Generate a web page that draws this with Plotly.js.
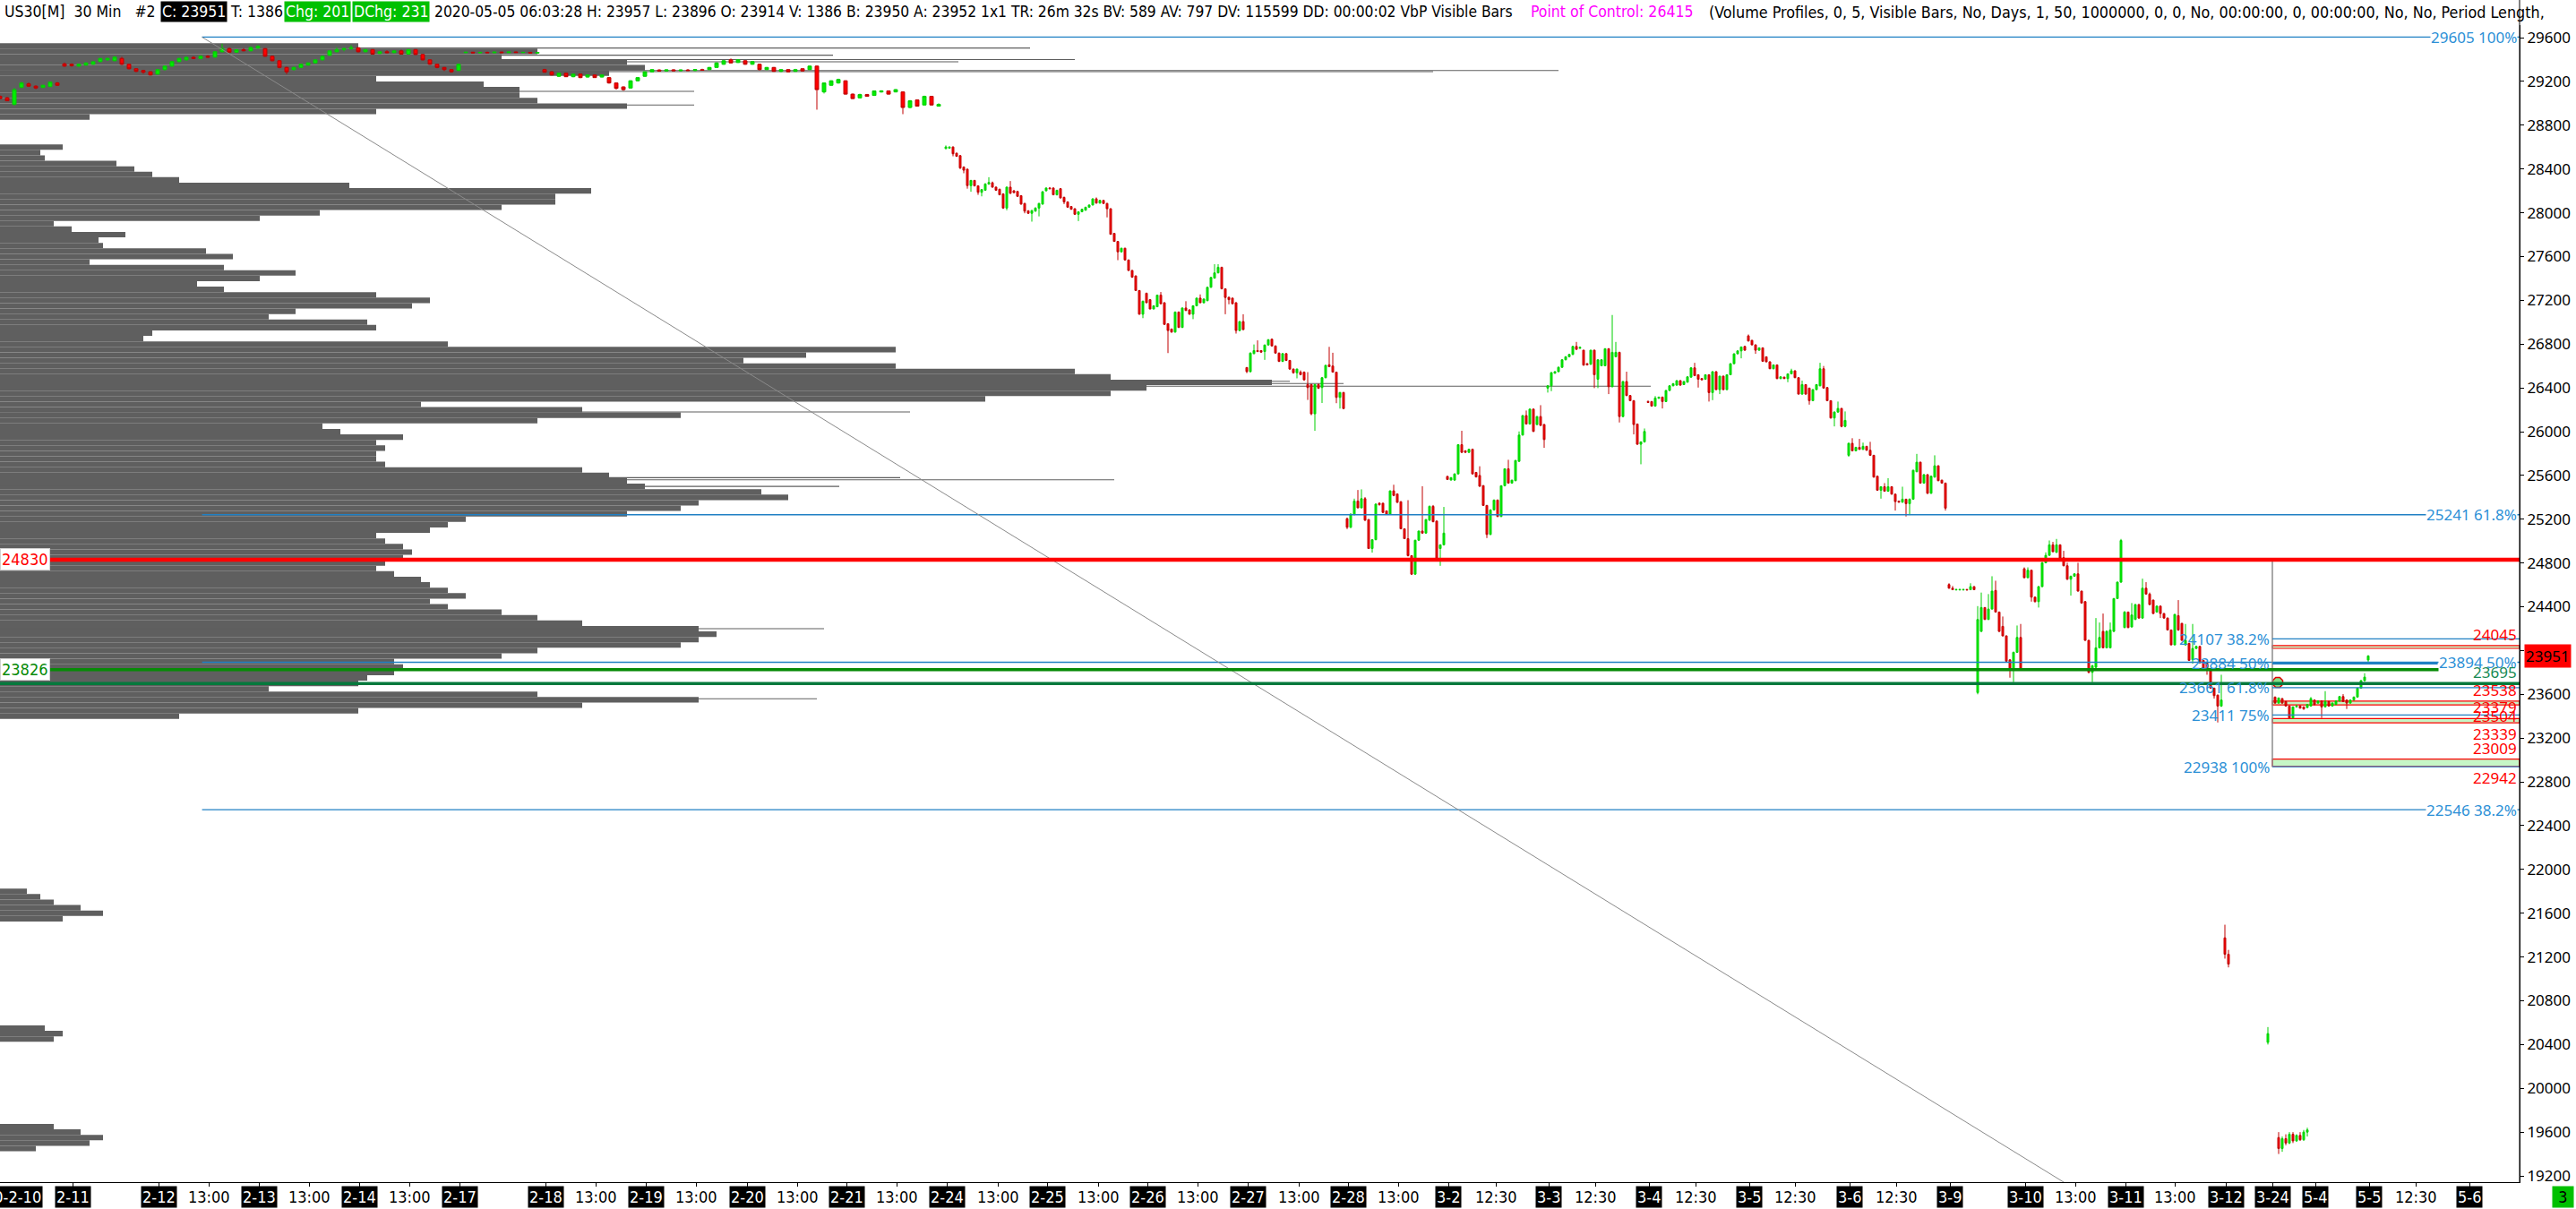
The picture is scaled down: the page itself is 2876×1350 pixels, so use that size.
<!DOCTYPE html>
<html>
<head>
<meta charset="utf-8">
<script src="https://cdn.plot.ly/plotly-3.0.1.min.js"></script>
<style>html,body{margin:0;padding:0;background:#fff;overflow:hidden}#chart{width:2876px;height:1350px}</style>
</head>
<body>
<div id="chart"></div>
<script>
// ---------------- DATA ----------------
const yTicks = [19200,19600,20000,20400,20800,21200,21600,22000,22400,22800,23200,23600,24000,24400,24800,25200,25600,26000,26400,26800,27200,27600,28000,28400,28800,29200,29600];
const yTickText = ['19200','19600','20000','20400','20800','21200','21600','22000','22400','22800','23200','23600','','24400','24800','25200','25600','26000','26400','26800','27200','27600','28000','28400','28800','29200','29600'];

const dayLabels = ['2-11','2-12','2-13','2-14','2-17','2-18','2-19','2-20','2-21','2-24','2-25','2-26','2-27','2-28','3-2','3-3','3-4','3-5','3-6','3-9','3-10','3-11','3-12','3-24','5-4','5-5','5-6'];
const dayBars = [20.25,44.25,72.25,100.25,128.25,152.25,180.25,208.5,236.25,264.25,292.25,320.25,348.25,376.25,404.25,432.25,460.25,488.25,516.25,544.25,565.25,593.25,621.25,634.25,646.25,661.25,689.25];
const timeLabels = ['13:00','13:00','13:00','13:00','13:00','13:00','13:00','13:00','13:00','13:00','13:00','13:00','12:30','12:30','12:30','12:30','12:30','13:00','13:00','12:30'];
const timeBars = [58.25,86.25,114.25,166.25,194.25,222.5,250.25,278.5,306.5,334.25,362.5,390.25,417.5,445.25,473.25,501,529.25,579.25,607,674.25];

// Feb 10 - Feb 21 candles, one per two 30-min slots (slot, then O,H,L,C)
const seg1Bars = [0,2,4,6,8,10,12,14,16,18,20,22,24,26,28,30,32,34,36,38,40,42,44,46,48,50,52,54,56,58,60,62,64,66,68,70,72,74,76,78,80,82,84,86,88,90,92,94,96,98,100,102,104,106,108,110,112,114,116,118,120,122,124,126,128,130,132,134,136,138,140,142,144,146,148,150,152,154,156,158,160,162,164,166,168,170,172,174,176,178,180,182,184,186,188,190,192,194,196,198,200,202,204,206,208,210,212,214,216,218,220,222,224,226,228,230,232,234,236,238,240,242,244,246,248,250,252,254,256,258,260,262];
const seg1 = [
[29064,29072,29040,29043],[29050,29060,29020,29023],[28990,29140,28980,29125],[29145,29195,29140,29186],[29178,29190,29150,29157],[29157,29165,29130,29140],
[29145,29170,29140,29165],[29153,29200,29148,29194],[29186,29194,29160,29165],[29361,29372,29335,29340],[29357,29365,29335,29345],[29340,29362,29335,29357],
[29349,29375,29345,29369],[29357,29385,29352,29380],[29381,29415,29375,29410],[29397,29418,29390,29410],[29389,29430,29385,29422],[29410,29425,29350,29357],
[29357,29362,29310,29316],[29316,29320,29285,29292],[29300,29306,29270,29284],[29288,29292,29255,29259],[29267,29312,29262,29308],[29308,29345,29300,29340],
[29340,29385,29335,29381],[29381,29415,29375,29410],[29397,29428,29390,29420],[29420,29430,29405,29410],[29410,29438,29405,29430],[29430,29440,29415,29422],
[29422,29475,29418,29471],[29471,29545,29465,29500],[29500,29510,29460,29467],[29467,29495,29462,29490],[29490,29505,29475,29480],[29480,29520,29475,29510],
[29505,29532,29498,29520],[29500,29505,29425,29430],[29430,29435,29385,29389],[29389,29393,29320,29328],[29328,29335,29267,29288],[29308,29335,29300,29328],
[29328,29362,29322,29357],[29349,29375,29345,29369],[29369,29400,29365,29397],[29397,29435,29392,29430],[29438,29485,29434,29479],[29471,29511,29466,29491],
[29491,29510,29475,29500],[29500,29532,29490,29508],[29508,29512,29465,29471],[29471,29495,29466,29491],[29491,29495,29445,29450],[29455,29475,29450,29471],
[29471,29485,29458,29463],[29463,29485,29458,29479],[29479,29490,29445,29450],[29450,29495,29446,29491],[29491,29495,29442,29446],[29446,29450,29392,29397],
[29397,29400,29352,29357],[29357,29362,29320,29328],[29328,29332,29295,29308],[29308,29312,29280,29288],[29300,29362,29296,29357],
[29463,29470,29458,29467],[29467,29471,29459,29461],[29461,29468,29457,29466],[29466,29472,29460,29462],[29462,29470,29458,29468],[29468,29473,29461,29463],
[29463,29471,29459,29469],[29469,29474,29462,29464],[29464,29470,29458,29466],[29466,29470,29457,29459],[29459,29468,29455,29465],
[29308,29315,29280,29284],[29288,29295,29255,29259],[29247,29280,29240,29275],[29275,29280,29240,29243],[29243,29272,29238,29267],[29267,29272,29230,29235],
[29240,29262,29235,29259],[29259,29265,29232,29235],[29240,29264,29236,29259],[29235,29240,29180,29186],[29186,29190,29125,29137],[29150,29155,29115,29125],
[29140,29210,29135,29206],[29206,29240,29200,29235],[29247,29292,29242,29288],[29288,29312,29284,29308],
[29304,29312,29292,29296],[29296,29310,29290,29306],[29306,29312,29294,29298],[29298,29310,29292,29304],[29304,29314,29296,29300],[29300,29312,29294,29308],[29308,29316,29298,29302],
[29308,29332,29304,29328],[29328,29375,29325,29369],[29357,29395,29352,29389],[29397,29410,29365,29369],[29373,29405,29369,29397],[29389,29395,29352,29357],
[29357,29385,29352,29381],[29357,29362,29300,29308],[29308,29332,29304,29328],[29328,29332,29288,29292],[29292,29312,29285,29308],[29308,29312,29284,29288],
[29292,29315,29288,29308],[29316,29320,29290,29296],[29308,29345,29304,29340],[29340,29345,28942,29125],[29104,29190,29090,29186],[29165,29210,29160,29206],
[29186,29225,29180,29218],[29206,29210,29080,29084],[29084,29090,29040,29043],[29050,29088,29045,29080],[29080,29086,29060,29064],[29072,29115,29068,29113],
[29104,29120,29098,29113],[29113,29118,29080,29084],[29104,29130,29100,29125],[29104,29110,28901,28962],[28962,29030,28955,29023],[29031,29035,28970,28974],
[28985,29070,28980,29064],[29064,29068,28980,28985],[28974,29000,28970,28990]
];

// Feb 24 - Mar 12 candles, consecutive 30-min slots starting at seg2Start (O,H,L,C)
const seg2Start = 264;
const seg2 = [
[28587,28615,28581,28601],[28590,28606,28587,28601],[28601,28606,28516,28539],[28544,28550,28510,28516],[28522,28527,28400,28409],[28418,28424,28361,28389],
[28398,28404,28220,28248],[28248,28300,28192,28296],[28296,28300,28240,28246],[28246,28250,28164,28187],[28187,28215,28150,28212],[28206,28270,28200,28263],
[28263,28325,28255,28277],[28274,28285,28230,28234],[28234,28240,28200,28206],[28215,28220,28160,28164],[28172,28178,28035,28043],[28043,28240,28023,28234],
[28234,28290,28172,28178],[28201,28206,28180,28184],[28195,28200,28145,28150],[28156,28160,28075,28079],[28085,28090,27995,28015],[28018,28023,27990,27995],
[27995,28025,27919,28020],[28015,28050,28010,28043],[28043,28090,27967,28085],[28079,28198,28075,28192],[28201,28232,28195,28226],[28226,28235,28215,28220],
[28226,28232,28160,28164],[28164,28210,28158,28206],[28220,28226,28130,28136],[28141,28147,28079,28099],[28099,28105,28045,28051],[28057,28060,28028,28032],
[28037,28040,27980,27986],[27986,28012,27924,28009],[28009,28036,28005,28032],[28023,28055,28020,28051],[28051,28075,28048,28071],[28071,28132,28068,28127],
[28127,28140,28085,28088],[28088,28118,28085,28113],[28113,28118,28080,28085],[28085,28090,27958,28037],[28037,28040,27800,27803],[27812,27815,27735,27738],
[27738,27742,27567,27643],[27643,27680,27638,27676],[27676,27680,27565,27569],[27569,27572,27468,27473],[27473,27476,27405,27412],[27423,27426,27285,27290],
[27290,27293,27070,27073],[27073,27197,27037,27192],[27265,27270,27175,27178],[27206,27210,27118,27121],[27121,27155,27118,27150],[27141,27252,27138,27248],
[27248,27276,27165,27169],[27178,27182,26978,26980],[26986,26990,26718,26924],[26938,26942,26905,26910],[26910,27098,26905,27093],[27093,27098,26948,26952],
[26952,27134,26948,27130],[27130,27192,27103,27107],[27113,27117,27070,27073],[27073,27155,27028,27150],[27150,27225,27145,27220],[27220,27254,27175,27178],
[27178,27216,27172,27212],[27197,27325,27192,27319],[27319,27412,27315,27409],[27403,27530,27398,27451],[27451,27530,27446,27502],[27502,27507,27300,27305],
[27305,27310,27073,27226],[27228,27232,27164,27206],[27220,27225,27165,27169],[27178,27182,26896,26924],[26924,27010,26918,27006],[27006,27073,26928,26933],
[26586,26590,26535,26549],[26549,26724,26540,26718],[26713,26797,26708,26741],[26741,26834,26727,26732],[26741,26745,26720,26727],[26732,26795,26656,26792],
[26792,26845,26788,26840],[26845,26850,26780,26783],[26783,26788,26713,26718],[26718,26722,26636,26642],[26642,26716,26636,26713],[26713,26716,26645,26651],
[26651,26655,26565,26572],[26572,26576,26530,26538],[26538,26576,26487,26572],[26544,26560,26515,26521],[26544,26550,26470,26473],[26431,26544,26290,26403],
[26431,26435,26150,26163],[26163,26435,26008,26431],[26431,26440,26390,26397],[26403,26500,26262,26493],[26493,26610,26488,26606],[26611,26775,26590,26594],
[26600,26721,26540,26544],[26544,26548,26260,26313],[26313,26362,26211,26358],[26358,26362,26205,26211],
[25205,25215,25110,25126],[25126,25250,25120,25247],[25242,25388,25236,25366],[25366,25467,25300,25304],[25304,25473,25300,25388],[25388,25402,25185,25191],
[25197,25200,24928,24932],[24932,25015,24895,25013],[25013,25345,25008,25338],[25346,25355,25325,25332],[25346,25350,25255,25262],[25276,25280,25240,25247],
[25247,25462,25242,25459],[25459,25515,25410,25417],[25431,25435,25350,25354],[25360,25364,25108,25112],[25112,25115,25018,25022],[25022,25374,24860,24867],
[24867,24870,24690,24698],[24698,25012,24692,25008],[25008,25095,25003,25092],[25092,25501,25068,25073],[25073,25200,25068,25197],[25191,25325,25186,25318],
[25318,25330,25172,25177],[25183,25186,24835,24839],[24932,24970,24774,24966],[24966,25312,24960,25073],
[25591,25596,25558,25563],[25558,25584,25554,25580],[25558,25618,25550,25614],[25614,25885,25610,25881],[25881,26008,25805,25811],[25825,25830,25805,25811],
[25811,25842,25805,25839],[25839,25845,25610,25614],[25628,25632,25582,25586],[25600,25684,25497,25501],[25507,25510,25322,25326],[25326,25330,25028,25061],
[25061,25290,25055,25285],[25285,25380,25280,25375],[25375,25380,25220,25225],[25225,25510,25220,25506],[25506,25665,25500,25661],[25661,25743,25525,25530],
[25530,25560,25525,25557],[25552,25740,25548,25737],[25729,26002,25725,25969],[25969,26150,25965,26147],[26147,26193,26065,26070],[26070,26210,26065,26206],
[26206,26210,25998,26002],[26065,26142,26060,26138],[26138,26242,26052,26057],[26065,26070,25852,25928],
[26398,26425,26357,26419],[26419,26545,26370,26539],[26534,26552,26530,26548],[26548,26595,26544,26588],[26588,26662,26584,26657],[26657,26690,26652,26684],
[26684,26710,26680,26706],[26706,26784,26700,26779],[26779,26820,26748,26752],[26763,26775,26755,26771],[26744,26748,26603,26608],[26621,26626,26605,26610],
[26616,26748,26610,26744],[26744,26750,26398,26520],[26479,26660,26398,26657],[26602,26662,26598,26657],[26602,26762,26598,26758],[26758,26762,26343,26411],
[26411,27066,26405,26725],[26684,26820,26680,26725],[26725,26730,26084,26138],[26138,26462,26133,26458],[26458,26548,26325,26330],[26330,26335,26280,26283],
[26283,26288,25975,26065],[26070,26073,25880,25885],[25885,25910,25702,25907],[25907,26029,25900,26002],
[26275,26285,26262,26267],[26275,26280,26230,26234],[26234,26325,26230,26307],[26305,26318,26300,26316],[26316,26320,26212,26275],[26275,26380,26270,26376],
[26376,26425,26372,26419],[26419,26445,26415,26438],[26425,26470,26420,26466],[26466,26470,26420,26425],[26430,26462,26426,26458],[26452,26505,26448,26501],
[26498,26590,26494,26583],[26583,26629,26507,26512],[26520,26524,26403,26479],[26485,26490,26470,26474],[26479,26524,26475,26520],[26520,26524,26275,26357],
[26357,26552,26288,26548],[26548,26552,26380,26384],[26384,26510,26343,26507],[26507,26512,26380,26384],[26384,26524,26380,26520],[26520,26625,26516,26621],
[26621,26715,26616,26711],[26711,26742,26708,26738],[26738,26778,26670,26774],[26779,26784,26740,26744],
[26875,26888,26825,26828],[26834,26838,26790,26793],[26793,26797,26711,26744],[26744,26770,26740,26766],[26766,26770,26640,26643],[26684,26688,26635,26638],
[26638,26642,26572,26575],[26575,26612,26570,26610],[26610,26614,26480,26485],[26485,26505,26480,26501],[26498,26502,26482,26485],[26485,26530,26452,26528],
[26528,26575,26524,26556],[26556,26560,26490,26493],[26493,26497,26340,26343],[26343,26466,26338,26430],[26430,26434,26338,26343],[26398,26402,26247,26283],
[26283,26388,26278,26384],[26384,26435,26380,26430],[26419,26629,26415,26575],[26575,26600,26393,26398],[26403,26407,26280,26283],[26283,26287,26120,26125],
[26125,26185,26048,26179],[26179,26275,26175,26212],[26212,26216,26040,26048],[26048,26185,26040,26103],
[25784,25900,25770,25893],[25893,25940,25820,25825],[25825,25862,25820,25857],[25857,25934,25835,25838],[25838,25900,25834,25866],[25866,25870,25826,25830],
[25830,25907,25780,25784],[25784,25788,25580,25585],[25593,25597,25460,25465],[25465,25500,25388,25497],[25497,25530,25452,25456],[25456,25575,25450,25497],
[25497,25501,25425,25429],[25429,25433,25279,25361],[25366,25370,25350,25356],[25356,25497,25350,25383],[25383,25387,25225,25342],[25342,25390,25238,25383],
[25383,25652,25378,25647],[25634,25797,25630,25721],[25721,25725,25525,25530],[25530,25612,25525,25607],[25607,25612,25430,25437],[25437,25597,25432,25593],
[25585,25784,25580,25688],[25688,25692,25548,25552],[25557,25560,25525,25530],[25530,25535,25279,25301],
[24603,24615,24565,24570],[24570,24590,24552,24556],[24554,24560,24550,24558],[24554,24560,24550,24558],[24554,24560,24550,24558],[24558,24562,24550,24554],
[24556,24615,24552,24584],[24584,24588,24552,24556],
[23616,24406,23600,24284],[24175,24530,24170,24393],[24393,24397,24280,24284],[24284,24516,24280,24379],[24379,24679,24375,24543],[24549,24638,24348,24352],
[24352,24356,24170,24175],[24221,24311,24130,24134],[24134,24138,23898,23902],[23915,23920,23752,23834],[23834,23990,23711,23984],[23984,24229,23980,24120],
[24120,24243,23830,23834],[24747,24760,24660,24666],[24666,24760,24660,24734],[24734,24738,24447,24488],[24488,24492,24440,24447],[24447,24590,24393,24584],
[24584,24810,24580,24802],[24802,24897,24798,24870],[24870,25006,24866,24966],[24966,24993,24900,24903],[24897,25020,24893,24966],[24966,24970,24839,24843],
[24848,24911,24770,24775],[24775,24802,24645,24652],[24652,24685,24502,24679],[24679,24705,24675,24701],[24701,24802,24540,24543],[24543,24547,24430,24434],
[24447,24451,24090,24093],[24093,24097,23793,23801],[23801,23870,23711,23861],[23847,24297,23842,24025],[24025,24256,24020,24120],[24175,24338,24020,24025],
[24025,24185,24020,24175],[24025,24256,24020,24188],[24175,24480,24170,24475],[24475,24630,24470,24625],[24625,25020,24620,25006],[24210,24360,24205,24352],
[24352,24356,24205,24210],[24216,24434,24210,24325],[24284,24425,24280,24420],[24420,24425,24292,24297],[24297,24657,24292,24570],[24570,24625,24511,24516],
[24516,24530,24415,24420],[24461,24465,24334,24338],[24352,24411,24348,24406],[24406,24410,24297,24338],[24338,24342,24293,24297],[24297,24301,24184,24188],
[24188,24192,24048,24052],[24052,24334,24048,24330],[24319,24461,24180,24188],[24248,24252,24090,24093],[24052,24243,24045,24093],[24066,24070,23905,23910],
[23916,24243,23880,24019],[24019,24045,24015,24038],[24038,24042,23885,23888],[23910,23914,23830,23834],[23888,23892,23779,23820],[23820,23825,23650,23657],
[23657,23660,23561,23588],[23593,23597,23343,23493],[23493,23779,23485,23548]
];

// isolated late-March bars (slot, then O,H,L,C)
const seg3Bars = [621,622,633,636,637,638,639,640,641,642,643,644];
const seg3 = [
[21375,21495,21185,21225],[21225,21265,21105,21135],[20420,20560,20400,20500],
[19550,19600,19400,19450],[19450,19560,19420,19540],[19540,19580,19480,19500],[19500,19600,19490,19580],
[19580,19600,19500,19520],[19520,19580,19510,19570],[19570,19600,19520,19530],[19530,19620,19520,19600],[19600,19640,19560,19620]
];

// May 4 - May 5 candles, consecutive from seg4Start
const seg4Start = 635;
const seg4 = [
[23575,23580,23515,23520],[23520,23570,23515,23567],[23561,23565,23515,23520],[23534,23538,23490,23493],[23493,23497,23380,23384],[23384,23490,23380,23485],
[23485,23505,23480,23493],[23493,23500,23470,23474],[23485,23490,23460,23466],[23479,23512,23475,23507],[23493,23575,23490,23561],[23548,23552,23500,23507],
[23520,23545,23515,23539],[23539,23545,23384,23485],[23485,23629,23480,23534],[23534,23540,23490,23493],[23493,23525,23488,23520],[23507,23545,23503,23539],
[23539,23585,23535,23580],[23580,23602,23530,23534],[23548,23552,23466,23520],[23520,23552,23515,23548],[23548,23580,23545,23575],[23575,23660,23570,23657],
[23657,23730,23652,23725],[23725,23793,23720,23757],[23914,23957,23896,23951]
];

// Volume by price
const profilePrices = [29525,29475,29425,29375,29325,29275,29225,29175,29125,29075,29025,28975,28925,28875,
28600,28550,28500,28450,28400,28350,28300,28250,28200,28150,28100,28050,28000,27950,27900,27850,27800,27750,27700,27650,27600,27550,27500,27450,27400,27350,27300,27250,27200,27150,27100,27050,27000,26950,26900,26850,26800,26750,26700,26650,26600,26550,26500,26450,26400,26350,26300,26250,26200,26150,26100,26050,26000,25950,25900,25850,25800,25750,25700,25650,25600,25550,25500,25450,25400,25350,25300,25250,25200,25150,25100,25050,25000,24950,24900,24850,24800,24750,24700,24650,24600,24550,24500,24450,24400,24350,24300,24250,24200,24150,24100,24050,24000,23950,23900,23850,23800,23750,23700,23650,23600,23550,23500,23450,23400,
21800,21750,21700,21650,21600,21550,20550,20500,20450,19650,19600,19550,19500,19450];
const profileVolumes = [400,600,560,700,720,680,420,540,580,580,600,700,420,100,
70,45,50,130,150,170,200,390,660,620,620,560,357,290,60,80,140,110,115,230,260,100,250,330,290,220,250,420,480,460,330,300,410,420,170,160,500,1000,900,830,1000,1200,1240,1420,1280,1240,1100,470,650,760,600,360,380,450,420,430,420,420,430,650,680,700,720,850,880,780,760,700,520,500,480,420,430,450,460,450,430,420,440,470,480,500,520,480,500,560,600,650,780,800,780,760,600,560,440,450,440,410,400,300,600,780,650,400,200,
30,45,60,90,115,70,50,70,60,60,90,115,100,40];
const spikePrices = [29505,29440,29400,29380,29300,29290,29110,28985,26460,26440,26415,26180,25580,25560,25500,24200,23560];
const spikeVolumes = [1150,930,1200,1070,1740,1600,775,775,1440,1500,1843,1016,1005,1244,937,920,912];

// Drawing-tool levels
const bigFibLevels = [29605,25241,23893,22546];
const bigFibText = ['29605 100%','25241 61.8%','23894 50%','22546 38.2%'];
const bigFibStartBar = 56.4;
const smallFibLevels = [24107,23884,23661,23411,22938];
const smallFibText = ['24107 38.2%','23884 50%','23661 61.8%','23411 75%','22938 100%'];
const smallFibBar = 634.25, smallFibTop = 24830;
const zones = [[24020,24045],[23504,23538],[23339,23379],[22942,23009]];
const zoneLabels = [[24045,'up'],[23538,'up'],[23504,'down'],[23379,'up'],[23339,'down'],[23009,'up'],[22942,'down']];
const redLevel = 24830, greenLevel1 = 23826, greenLevel2 = 23698, lastPrice = 23951, pocPrice = 26415;

// ---------------- BUILD ----------------
const X_MAX = 703.25;
const PLOT_W = 2813, PLOT_TOP = 28, PLOT_BOTTOM = 1320;
const pY = py => (PLOT_BOTTOM - py) / (PLOT_BOTTOM - PLOT_TOP);
const pX = px => px / PLOT_W;

const ax=[],ao=[],ah=[],al=[],ac=[];
seg1.forEach((r,i)=>{ax.push(seg1Bars[i]);ao.push(r[0]);ah.push(r[1]);al.push(r[2]);ac.push(r[3]);});
const cx=[],co=[],ch=[],cl=[],cc=[];
seg2.forEach((r,i)=>{cx.push(seg2Start+i);co.push(r[0]);ch.push(r[1]);cl.push(r[2]);cc.push(r[3]);});
seg3.forEach((r,i)=>{cx.push(seg3Bars[i]);co.push(r[0]);ch.push(r[1]);cl.push(r[2]);cc.push(r[3]);});
const dx=[],dopen=[],dh=[],dl=[],dc=[];
seg4.forEach((r,i)=>{dx.push(seg4Start+i);dopen.push(r[0]);dh.push(r[1]);dl.push(r[2]);dc.push(r[3]);});

const inc = {line:{color:'#00d000',width:1},fillcolor:'#00f000'};
const dec = {line:{color:'#c00000',width:1},fillcolor:'#ff0000'};

const traces = [
 {type:'bar',orientation:'h',x:profileVolumes,y:profilePrices,width:50,base:0,xaxis:'x',yaxis:'y',
  marker:{color:'#5f5f5f',line:{width:0}},hoverinfo:'skip'},
 {type:'bar',orientation:'h',x:spikeVolumes,y:spikePrices,width:9,base:0,xaxis:'x',yaxis:'y',
  marker:{color:'#5f5f5f',line:{width:0}},hoverinfo:'skip'},
 {type:'candlestick',x:cx,open:co,high:ch,low:cl,close:cc,increasing:inc,decreasing:dec,whiskerwidth:0,hoverinfo:'skip',xaxis:'x2',yaxis:'y'},
 {type:'candlestick',x:dx,open:dopen,high:dh,low:dl,close:dc,increasing:inc,decreasing:dec,whiskerwidth:0,hoverinfo:'skip',xaxis:'x2',yaxis:'y'},
 {type:'scatter',mode:'markers',x:[635.75],y:[23709],xaxis:'x2',yaxis:'y',marker:{symbol:'octagon',size:12,color:'#86e086',line:{color:'#e00000',width:1.5}},hoverinfo:'skip'},
 {type:'candlestick',x:ax,open:ao,high:ah,low:al,close:ac,increasing:inc,decreasing:dec,whiskerwidth:0,hoverinfo:'skip',xaxis:'x3',yaxis:'y'}
];

const BLUE='#2080c4', BLUE_T='#2b8fd6';
const shapes = [];
zones.forEach(z=>shapes.push({type:'rect',xref:'x2',yref:'y',x0:smallFibBar,x1:X_MAX,y0:z[0],y1:z[1],fillcolor:'#c6f6c6',line:{color:'#ff0000',width:1.2},layer:'below'}));
bigFibLevels.forEach(v=>shapes.push({type:'line',xref:'x2',yref:'y',x0:bigFibStartBar,x1:X_MAX,y0:v,y1:v,line:{color:BLUE,width:1.3},layer:'above'}));
shapes.push({type:'line',xref:'x2',yref:'y',x0:bigFibStartBar,y0:29605,x1:576,y1:19143,line:{color:'#8a8a8a',width:1},layer:'above'});
shapes.push({type:'line',xref:'x2',yref:'y',x0:smallFibBar,x1:smallFibBar,y0:smallFibTop,y1:22938,line:{color:'#8c8c8c',width:1.5},layer:'above'});
smallFibLevels.forEach((v,i)=>shapes.push({type:'line',xref:'x2',yref:'y',x0:smallFibBar,x1:(i===1?680.4:X_MAX),y0:v,y1:v,line:{color:BLUE,width:(i===1?2.6:1.3)},layer:'above'}));
shapes.push({type:'line',xref:'paper',yref:'y',x0:0,x1:1,y0:redLevel,y1:redLevel,line:{color:'#ff0000',width:4.5},layer:'above'});
shapes.push({type:'line',xref:'x2',yref:'y',x0:0,x1:690.25,y0:greenLevel1,y1:greenLevel1,line:{color:'#078a07',width:3.5},layer:'above'});
shapes.push({type:'line',xref:'paper',yref:'y',x0:0,x1:1,y0:greenLevel2,y1:greenLevel2,line:{color:'#05793c',width:3.5},layer:'above'});
shapes.push({type:'line',xref:'paper',yref:'paper',x0:1,x1:1,y0:0,y1:pY(0),line:{color:'#000',width:1}});

const NARROW = "'Liberation Sans Narrow','DejaVu Sans Condensed','Arial Narrow',sans-serif";
const SANS = "'Noto Sans','Open Sans',sans-serif";
const ann = [];
const lab = (o)=>ann.push(Object.assign({showarrow:false,borderpad:0},o));

const hy = pY(13);
lab({xref:'paper',yref:'paper',x:pX(4),y:hy,xanchor:'left',yanchor:'middle',text:'US30[M]  30 Min   #2',font:{family:NARROW,size:17.5,color:'#000'}});
lab({xref:'paper',yref:'paper',x:pX(179),y:hy,xanchor:'left',yanchor:'middle',text:'C: 23951',bgcolor:'#000',borderpad:1,font:{family:NARROW,size:17.5,color:'#fff'}});
lab({xref:'paper',yref:'paper',x:pX(256),y:hy,xanchor:'left',yanchor:'middle',text:'T: 1386',font:{family:NARROW,size:17.5,color:'#000'}});
lab({xref:'paper',yref:'paper',x:pX(317),y:hy,xanchor:'left',yanchor:'middle',text:'Chg: 201',bgcolor:'#00c000',borderpad:1,font:{family:NARROW,size:17.5,color:'#fff'}});
lab({xref:'paper',yref:'paper',x:pX(393),y:hy,xanchor:'left',yanchor:'middle',text:'DChg: 231',bgcolor:'#00c000',borderpad:1,font:{family:NARROW,size:17.5,color:'#fff'}});
lab({xref:'paper',yref:'paper',x:pX(484),y:hy,xanchor:'left',yanchor:'middle',text:'2020-05-05 06:03:28 H: 23957 L: 23896 O: 23914 V: 1386 B: 23950 A: 23952 1x1 TR: 26m 32s BV: 589 AV: 797 DV: 115599 DD: 00:00:02 VbP Visible Bars',font:{family:NARROW,size:17.3,color:'#000'}});
lab({xref:'paper',yref:'paper',x:pX(1708),y:hy,xanchor:'left',yanchor:'middle',text:'Point of Control: '+pocPrice,font:{family:NARROW,size:17.5,color:'#ff00ff'}});
lab({xref:'paper',yref:'paper',x:pX(1907),y:hy,xanchor:'left',yanchor:'middle',text:'(Volume Profiles, 0, 5, Visible Bars, No, Days, 1, 50, 1000000, 0, 0, No, 00:00:00, 0, 00:00:00, No, No, Period Length,',font:{family:NARROW,size:17.8,color:'#000'}});

const ly = pY(1336);
lab({xref:'x2',yref:'paper',x:12,y:ly,xanchor:'right',yanchor:'middle',text:'20-2-10',bgcolor:'#000',borderpad:1,font:{family:NARROW,size:18,color:'#fff'}});
dayLabels.forEach((t,i)=>lab({xref:'x2',yref:'paper',x:dayBars[i],y:ly,xanchor:'center',yanchor:'middle',text:t,bgcolor:'#000',borderpad:1,font:{family:NARROW,size:18,color:'#fff'}}));
timeLabels.forEach((t,i)=>lab({xref:'x2',yref:'paper',x:timeBars[i],y:ly,xanchor:'center',yanchor:'middle',text:t,font:{family:NARROW,size:18,color:'#000'}}));
lab({xref:'paper',yref:'paper',x:pX(2849),y:ly,xanchor:'left',yanchor:'middle',text:' 3 ',bgcolor:'#00c000',borderpad:1,font:{family:NARROW,size:18,color:'#000'}});

bigFibLevels.forEach((v,i)=>lab({xref:'paper',yref:'y',x:pX(2811),y:v,xanchor:'right',yanchor:'middle',text:bigFibText[i],bgcolor:'#fff',font:{family:SANS,size:17,color:BLUE_T}}));
smallFibLevels.forEach((v,i)=>lab({xref:'x2',yref:'y',x:smallFibBar-0.5,y:v,xanchor:'right',yanchor:'middle',text:smallFibText[i],font:{family:SANS,size:17,color:BLUE_T}}));
zoneLabels.forEach(z=>lab({xref:'paper',yref:'y',x:pX(2811),y:z[0],xanchor:'right',yanchor:(z[1]==='up'?'bottom':'top'),text:String(z[0]),font:{family:SANS,size:17,color:'#ff0000'}}));
lab({xref:'paper',yref:'y',x:pX(2811),y:greenLevel2,xanchor:'right',yanchor:'bottom',text:'23695',font:{family:SANS,size:17,color:'#178a55'}});
lab({xref:'paper',yref:'y',x:pX(2818),y:lastPrice,xanchor:'left',yanchor:'middle',text:String(lastPrice),bgcolor:'#ff0000',borderpad:1,font:{family:SANS,size:17,color:'#000'}});
lab({xref:'paper',yref:'y',x:0,y:redLevel,xanchor:'left',yanchor:'middle',text:String(redLevel),bgcolor:'#fff',bordercolor:'#d0d0d0',borderwidth:1,borderpad:1,font:{family:NARROW,size:18,color:'#ff0000'}});
lab({xref:'paper',yref:'y',x:0,y:greenLevel1,xanchor:'left',yanchor:'middle',text:String(greenLevel1),bgcolor:'#fff',bordercolor:'#d0d0d0',borderwidth:1,borderpad:1,font:{family:NARROW,size:18,color:'#078a07'}});

const layout = {
 width:2876,height:1350,margin:{l:0,r:63,t:28,b:30,pad:0},
 paper_bgcolor:'#fff',plot_bgcolor:'#fff',showlegend:false,barmode:'overlay',
 xaxis:{range:[0,PLOT_W],showgrid:false,zeroline:false,showline:false,ticks:'',showticklabels:false,fixedrange:true,rangeslider:{visible:false}},
 xaxis2:{range:[0,X_MAX],overlaying:'x',side:'bottom',showgrid:false,zeroline:false,showline:true,linecolor:'#000',linewidth:1,
   ticks:'outside',ticklen:4,tickcolor:'#000',tickmode:'array',tickvals:dayBars.concat(timeBars),showticklabels:false,
   rangeslider:{visible:false},fixedrange:true},
 xaxis3:{range:[0,X_MAX],overlaying:'x',visible:false,rangeslider:{visible:false},fixedrange:true},
 yaxis:{range:[19143,29715],side:'right',showgrid:false,zeroline:false,showline:true,linecolor:'#000',linewidth:1,
   ticks:'outside',ticklen:4,tickcolor:'#000',tickmode:'array',tickvals:yTicks,ticktext:yTickText,
   tickfont:{family:SANS,size:17,color:'#000'},fixedrange:true},
 shapes:shapes,annotations:ann
};
Plotly.newPlot('chart',traces,layout,{staticPlot:true,displayModeBar:false});
</script>
</body>
</html>
